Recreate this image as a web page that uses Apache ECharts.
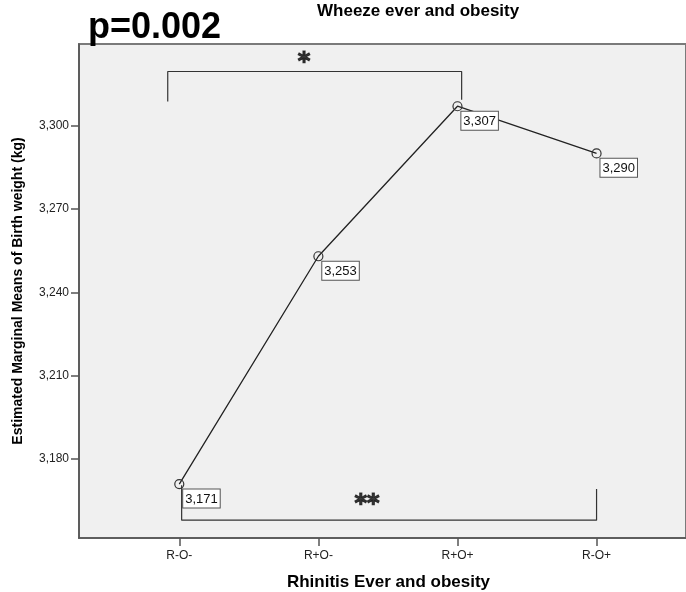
<!DOCTYPE html>
<html>
<head>
<meta charset="utf-8">
<script src="https://cdn.jsdelivr.net/npm/echarts@6/dist/echarts.min.js"></script>
<style>
  html, body { margin: 0; padding: 0; background: #fff; }
  #chart { width: 686px; height: 592px; }
</style>
</head>
<body>
<div id="chart"></div>
<script>
// Group labels along the x axis (positions 0..3)
const categories = ['R-O-', 'R+O-', 'R+O+', 'R-O+'];
// Estimated marginal means of birth weight per group
const means = [3171, 3253, 3307, 3290];
// Y tick values shown on the axis
const yTicks = [3180, 3210, 3240, 3270, 3300];

// Significance brackets, in data coordinates [category position, value]
const bracketTop = [[-0.083, 3308.7], [-0.083, 3319.5], [2.03, 3319.5], [2.03, 3309.3]];
const bracketBottom = [[0.017, 3170.6], [0.017, 3158.0], [3.0, 3158.0], [3.0, 3169.2]];
// Significance markers placed over the brackets
const starMarks = [
  { name: '*', value: [0.896, 3322.6] },
  { name: '**', value: [1.35, 3163.5] }
];

const fmt = v => Number(v).toLocaleString('en-US');
const SANS = '"Liberation Sans", Arial, sans-serif';

const chart = echarts.init(document.getElementById('chart'), null, { renderer: 'canvas' });

chart.setOption({
  backgroundColor: '#ffffff',
  animation: false,
  grid: {
    left: 79, right: 0, top: 44, bottom: 54,
    outerBoundsMode: 'none',
    containLabel: false,
    show: true,
    backgroundColor: '#f0f0f0',
    borderColor: '#7a7a7a',
    borderWidth: 2
  },
  graphic: [
    {
      type: 'text', left: 88, top: 10,
      style: { text: 'p=0.002', font: 'bold 36px ' + SANS, fill: '#000' }
    },
    {
      type: 'text', left: 317, top: 3,
      style: { text: 'Wheeze ever and obesity', font: 'bold 17px ' + SANS, fill: '#000' }
    }
  ],
  xAxis: {
    type: 'value',
    min: -0.721,
    max: 3.643,
    name: 'Rhinitis Ever and obesity',
    nameLocation: 'middle',
    nameGap: 36,
    nameTextStyle: { fontFamily: SANS, fontWeight: 'bold', fontSize: 17, color: '#000', padding: [0, 0, 0, 12] },
    axisLine: { show: true, onZero: false, lineStyle: { color: '#555', width: 1.5 } },
    axisTick: { show: true, length: 8, customValues: [0, 1, 2, 3], lineStyle: { color: '#555', width: 1.5 } },
    axisLabel: {
      customValues: [0, 1, 2, 3],
      formatter: v => categories[Math.round(v)],
      margin: 12,
      fontFamily: SANS,
      fontSize: 12,
      color: '#222'
    },
    splitLine: { show: false }
  },
  yAxis: {
    type: 'value',
    min: 3151.6,
    max: 3329.4,
    name: 'Estimated Marginal Means of Birth weight (kg)',
    nameLocation: 'middle',
    nameGap: 54,
    nameTextStyle: { fontFamily: SANS, fontWeight: 'bold', fontSize: 14, color: '#000' },
    axisLine: { show: true, onZero: false, lineStyle: { color: '#555', width: 1.5 } },
    axisTick: { show: true, length: 8, customValues: yTicks, lineStyle: { color: '#555', width: 1.5 } },
    axisLabel: {
      customValues: yTicks,
      formatter: v => fmt(v),
      margin: 10,
      fontFamily: SANS,
      fontSize: 12,
      color: '#222'
    },
    splitLine: { show: false }
  },
  series: [
    {
      type: 'line',
      data: means.map((m, i) => [i, m]),
      symbol: 'circle',
      symbolSize: 9,
      itemStyle: { color: 'rgba(0,0,0,0)', borderColor: '#333', borderWidth: 1.2 },
      lineStyle: { color: '#222', width: 1.3 },
      label: {
        show: true,
        formatter: p => fmt(p.value[1]),
        position: [9, 10.5],
        align: 'left',
        verticalAlign: 'top',
        backgroundColor: '#fff',
        borderColor: '#555',
        borderWidth: 1,
        padding: [3, 2, 2, 2],
        fontFamily: SANS,
        fontSize: 13,
        color: '#111'
      },
      z: 5
    },
    {
      type: 'line',
      data: bracketTop,
      symbol: 'none',
      silent: true,
      lineStyle: { color: '#333', width: 1.2 },
      z: 3
    },
    {
      type: 'line',
      data: bracketBottom,
      symbol: 'none',
      silent: true,
      lineStyle: { color: '#333', width: 1.2 },
      z: 3
    },
    {
      type: 'scatter',
      data: starMarks,
      symbolSize: 0,
      silent: true,
      label: {
        show: true,
        position: 'inside',
        formatter: p => p.name,
        fontFamily: '"DejaVu Sans", sans-serif',
        fontWeight: 'bold',
        fontSize: 24,
        color: '#111',
        textBorderColor: '#111',
        textBorderWidth: 1.2
      },
      z: 4
    }
  ]
});
</script>
</body>
</html>
